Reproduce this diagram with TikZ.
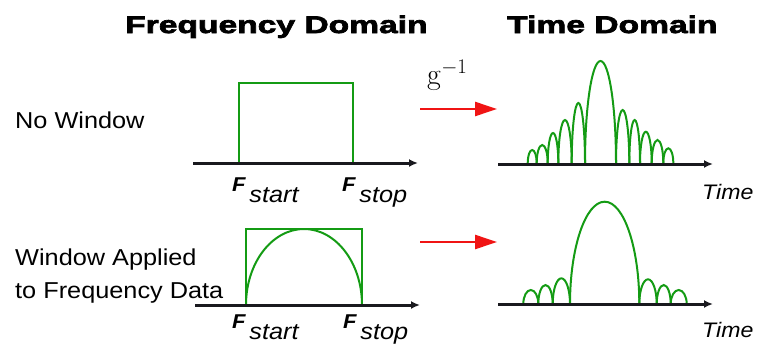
\documentclass[tikz,border=0pt]{standalone}
\usepackage[no-math]{fontspec}
\setmainfont[FakeStretch=1.1]{Liberation Sans}
\newfontfamily\headfont[FakeStretch=1.4,FakeBold=3]{Liberation Sans}
\usetikzlibrary{arrows.meta}
\definecolor{mygreen}{RGB}{20,155,20}
\definecolor{myred}{RGB}{240,20,20}
\definecolor{mydark}{RGB}{25,25,30}
\newcommand{\flabel}[1]{\textbf{\fontsize{20}{20}\selectfont F}\,\raisebox{-11pt}{#1}}
\tikzset{
  title/.style={font=\headfont\bfseries\fontsize{24}{24}\selectfont,
    anchor=base west, inner sep=0pt},
  sidetext/.style={font=\fontsize{23}{33}\selectfont,
    anchor=base west, inner sep=0pt, align=left},
  freqlabel/.style={font=\itshape\fontsize{23}{23}\selectfont,
    anchor=base west, inner sep=0pt},
  axisline/.style={-{Latex[length=9pt,width=8pt]}, line width=3pt, color=mydark},
  redarrow/.style={-{Triangle[length=22pt,width=14pt]}, line width=2.5pt, color=myred},
  spectrum/.style={line width=2pt, color=mygreen}
}

\begin{document}
\begin{tikzpicture}[x=1pt, y=-1pt]
  \useasboundingbox (0,0) rectangle (759,343);

  % headings and row texts
  \node[title] (freqtitle) at (125,33) {Frequency Domain};
  \node[title] (timetitle) at (507,33) {Time Domain};
  \node[sidetext] (nowin) at (15,128) {No Window};
  \node[sidetext] (winapp) at (15,298) {Window Applied\\to Frequency Data};
  \node[anchor=base west, inner sep=0pt, font=\fontsize{24}{24}\selectfont]
    (invft) at (427,84) {\scalebox{1.2}{$\mathrm{g}^{-1}$}};

  % axes
  \coordinate (f1a) at (193,163);
  \coordinate (f1b) at (418,163);
  \coordinate (t1a) at (498,164);
  \coordinate (t1b) at (713,164);
  \coordinate (f2a) at (195,305);
  \coordinate (f2b) at (420,305);
  \coordinate (t2a) at (498,304);
  \coordinate (t2b) at (713,304);

  % top row: no window
  \draw[spectrum] (239,163) |- (353,83) -- (353,163);
  \foreach \a/\b/\t in {527.7/536.7/150, 536.7/547.7/145, 547.7/558.3/133,
      558.3/571.7/120, 571.7/585/103, 585/616/61, 616/629.3/110,
      629.3/640/120, 640/651.7/131.7, 651.7/663.3/140, 663.3/673.3/148.3}
    \draw[spectrum] (\a,163) arc[start angle=180, end angle=0,
      x radius={(\b-\a)/2*1pt}, y radius={(163-\t)*1pt}];

  % bottom row: window applied
  \draw[spectrum] (246,305) |- (362,229) -- (362,305);
  \draw[spectrum] (246,305) arc[start angle=180, end angle=0,
    x radius=58pt, y radius=76pt];
  \foreach \a/\b/\t in {523.3/538.3/290, 538.3/552.7/285, 552.7/570/278.3,
      570/639.3/201.7, 639.3/656.7/279.3, 656.7/670.7/285, 670.7/686.7/290}
    \draw[spectrum] (\a,304) arc[start angle=180, end angle=0,
      x radius={(\b-\a)/2*1pt}, y radius={(304-\t)*1pt}];

  \draw[axisline] (f1a) -- (f1b);
  \draw[axisline] (t1a) -- (t1b);
  \draw[axisline] (f2a) -- (f2b);
  \draw[axisline] (t2a) -- (t2b);

  % transform arrows
  \coordinate (r1a) at (420,109);
  \coordinate (r1b) at (497,109);
  \coordinate (r2a) at (420,242);
  \coordinate (r2b) at (497,242);
  \draw[redarrow] (r1a) -- (r1b);
  \draw[redarrow] (r2a) -- (r2b);

  % axis labels
  \node[freqlabel] (fstart1) at (232,191) {\flabel{start}};
  \node[freqlabel] (fstop1) at (342,191) {\flabel{stop}};
  \node[freqlabel] (fstart2) at (232,328) {\flabel{start}};
  \node[freqlabel] (fstop2) at (343,328) {\flabel{stop}};
  \node[freqlabel, font=\itshape\fontsize{21}{21}\selectfont] (time1) at (702,199) {Time};
  \node[freqlabel, font=\itshape\fontsize{21}{21}\selectfont] (time2) at (702,337) {Time};
\end{tikzpicture}
\end{document}
